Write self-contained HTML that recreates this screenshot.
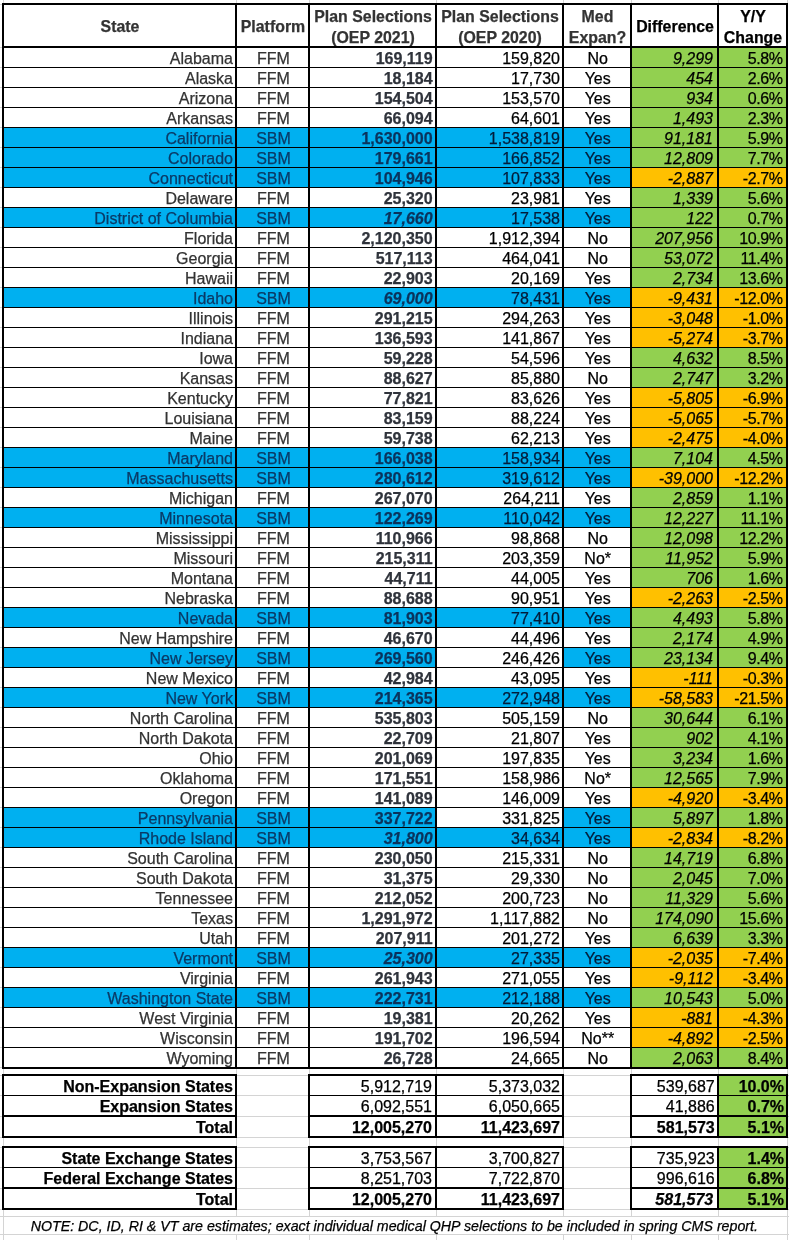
<!DOCTYPE html>
<html lang="en">
<head>
<meta charset="utf-8">
<title>OEP 2021 Plan Selections by State</title>
<style>
html,body{margin:0;padding:0;background:#fff;}
body{width:789px;height:1240px;overflow:hidden;}
#sheet{position:relative;width:789px;height:1240px;background:#fff;overflow:hidden;
  font-family:"Liberation Sans",sans-serif;font-size:16px;color:#000;-webkit-text-stroke:0.25px;}
#sheet div,#sheet span{position:absolute;box-sizing:border-box;white-space:nowrap;}
/* light spreadsheet gridlines */
.gh{left:0;width:789px;height:1px;background:#d4d4d4;}
.gv{top:0;height:1240px;width:1px;background:#d4d4d4;}
/* black rules */
.v{width:2px;background:#000;}
.h{height:2px;background:#000;}
.h1{height:1px;background:#000;}
/* header */
.hd{top:5px;height:41px;font-size:15.9px;padding-left:1px;font-weight:bold;text-align:center;line-height:20.6px;color:#333;background:#fff;}
.hd.k{color:#000;}
/* body rows */
.r{left:4px;width:782px;height:20px;line-height:21px;border-bottom:1px solid #000;}
.r span{top:0;height:19px;}
.c1{left:0;width:231px;text-align:right;padding-right:2px;color:#333;}
.c2{left:233px;width:71px;padding-left:2px;text-align:center;color:#333;}
.c3{left:306px;width:125px;text-align:right;padding-right:2.4px;font-weight:bold;color:#2f333b;}
.c4{left:433px;width:125px;text-align:right;padding-right:2px;}
.c5{left:560px;width:66px;text-align:center;padding-left:1.4px;}
.c6{left:628px;width:85px;text-align:right;padding-right:4px;font-style:italic;background:#92d050;}
.c7{left:715px;width:67px;text-align:right;padding-right:3.4px;letter-spacing:-0.4px;background:#92d050;}
.o .c6,.o .c7{background:#ffc000;}
.b .c1,.b .c2,.b .c3,.b .c4,.b .c5{background:#00b0f0;}
.b .c1,.b .c2{color:#0a3a66;}
.b .c3{color:#0a335c;}
.b .c4,.b .c5{color:#031c3a;}
.b.w4 .c4{background:#fff;color:#000;}
.e .c3{font-style:italic;}
/* summary rows */
.s{height:19px;line-height:21px;text-align:right;}
.sb{font-weight:bold;}
.g{background:#92d050;}
.note{left:0;width:789px;top:1217px;height:17px;line-height:18px;font-size:14.23px;font-style:italic;text-align:center;}
.hd.one{line-height:41px;padding-top:1px;}
.hd.two{padding-top:2px;}
</style>
</head>
<body>
<div id="sheet">
<!-- faint spreadsheet gridlines -->
<div class="gv" style="left:3px"></div><div class="gv" style="left:236px"></div><div class="gv" style="left:309px"></div><div class="gv" style="left:436px"></div><div class="gv" style="left:563px"></div><div class="gv" style="left:631px"></div><div class="gv" style="left:718px"></div><div class="gv" style="left:787px"></div>
<div class="gh" style="top:1075px"></div><div class="gh" style="top:1095px"></div><div class="gh" style="top:1116px"></div><div class="gh" style="top:1137px"></div><div class="gh" style="top:1147px"></div><div class="gh" style="top:1167px"></div><div class="gh" style="top:1188px"></div><div class="gh" style="top:1209px"></div><div class="gh" style="top:1216px"></div><div class="gh" style="top:1234px"></div>
<div class="gh" style="top:4px;width:2px"></div><div class="gh" style="top:47px;width:2px"></div><div class="gh" style="top:67px;width:2px"></div><div class="gh" style="top:87px;width:2px"></div><div class="gh" style="top:107px;width:2px"></div><div class="gh" style="top:127px;width:2px"></div><div class="gh" style="top:147px;width:2px"></div><div class="gh" style="top:167px;width:2px"></div><div class="gh" style="top:187px;width:2px"></div><div class="gh" style="top:207px;width:2px"></div><div class="gh" style="top:227px;width:2px"></div><div class="gh" style="top:247px;width:2px"></div><div class="gh" style="top:267px;width:2px"></div><div class="gh" style="top:287px;width:2px"></div><div class="gh" style="top:307px;width:2px"></div><div class="gh" style="top:327px;width:2px"></div><div class="gh" style="top:347px;width:2px"></div><div class="gh" style="top:367px;width:2px"></div><div class="gh" style="top:387px;width:2px"></div><div class="gh" style="top:407px;width:2px"></div><div class="gh" style="top:427px;width:2px"></div><div class="gh" style="top:447px;width:2px"></div><div class="gh" style="top:467px;width:2px"></div><div class="gh" style="top:487px;width:2px"></div><div class="gh" style="top:507px;width:2px"></div><div class="gh" style="top:527px;width:2px"></div><div class="gh" style="top:547px;width:2px"></div><div class="gh" style="top:567px;width:2px"></div><div class="gh" style="top:587px;width:2px"></div><div class="gh" style="top:607px;width:2px"></div><div class="gh" style="top:627px;width:2px"></div><div class="gh" style="top:647px;width:2px"></div><div class="gh" style="top:667px;width:2px"></div><div class="gh" style="top:687px;width:2px"></div><div class="gh" style="top:707px;width:2px"></div><div class="gh" style="top:727px;width:2px"></div><div class="gh" style="top:747px;width:2px"></div><div class="gh" style="top:767px;width:2px"></div><div class="gh" style="top:787px;width:2px"></div><div class="gh" style="top:807px;width:2px"></div><div class="gh" style="top:827px;width:2px"></div><div class="gh" style="top:847px;width:2px"></div><div class="gh" style="top:867px;width:2px"></div><div class="gh" style="top:887px;width:2px"></div><div class="gh" style="top:907px;width:2px"></div><div class="gh" style="top:927px;width:2px"></div><div class="gh" style="top:947px;width:2px"></div><div class="gh" style="top:967px;width:2px"></div><div class="gh" style="top:987px;width:2px"></div><div class="gh" style="top:1007px;width:2px"></div><div class="gh" style="top:1027px;width:2px"></div><div class="gh" style="top:1047px;width:2px"></div><div class="gh" style="top:1067px;width:2px"></div>
<!-- white backing of main table -->
<div style="left:2px;top:3px;width:786px;height:1066px;background:#fff"></div>
<!-- header row -->
<div class="hd one" style="left:4px;width:231px">State</div>
<div class="hd one" style="left:237px;width:71px">Platform</div>
<div class="hd two" style="left:310px;width:125px">Plan Selections<br>(OEP 2021)</div>
<div class="hd two" style="left:437px;width:125px">Plan Selections<br>(OEP 2020)</div>
<div class="hd two" style="left:564px;width:66px">Med<br>Expan?</div>
<div class="hd one k" style="left:632px;width:85px">Difference</div>
<div class="hd two k" style="left:719px;width:67px">Y/Y<br>Change</div>
<!-- state rows -->
<div class="r" style="top:48px"><span class="c1">Alabama</span><span class="c2">FFM</span><span class="c3">169,119</span><span class="c4">159,820</span><span class="c5">No</span><span class="c6">9,299</span><span class="c7">5.8%</span></div>
<div class="r" style="top:68px"><span class="c1">Alaska</span><span class="c2">FFM</span><span class="c3">18,184</span><span class="c4">17,730</span><span class="c5">Yes</span><span class="c6">454</span><span class="c7">2.6%</span></div>
<div class="r" style="top:88px"><span class="c1">Arizona</span><span class="c2">FFM</span><span class="c3">154,504</span><span class="c4">153,570</span><span class="c5">Yes</span><span class="c6">934</span><span class="c7">0.6%</span></div>
<div class="r" style="top:108px"><span class="c1">Arkansas</span><span class="c2">FFM</span><span class="c3">66,094</span><span class="c4">64,601</span><span class="c5">Yes</span><span class="c6">1,493</span><span class="c7">2.3%</span></div>
<div class="r b" style="top:128px"><span class="c1">California</span><span class="c2">SBM</span><span class="c3">1,630,000</span><span class="c4">1,538,819</span><span class="c5">Yes</span><span class="c6">91,181</span><span class="c7">5.9%</span></div>
<div class="r b" style="top:148px"><span class="c1">Colorado</span><span class="c2">SBM</span><span class="c3">179,661</span><span class="c4">166,852</span><span class="c5">Yes</span><span class="c6">12,809</span><span class="c7">7.7%</span></div>
<div class="r b o" style="top:168px"><span class="c1">Connecticut</span><span class="c2">SBM</span><span class="c3">104,946</span><span class="c4">107,833</span><span class="c5">Yes</span><span class="c6">-2,887</span><span class="c7">-2.7%</span></div>
<div class="r" style="top:188px"><span class="c1">Delaware</span><span class="c2">FFM</span><span class="c3">25,320</span><span class="c4">23,981</span><span class="c5">Yes</span><span class="c6">1,339</span><span class="c7">5.6%</span></div>
<div class="r b e" style="top:208px"><span class="c1">District of Columbia</span><span class="c2">SBM</span><span class="c3">17,660</span><span class="c4">17,538</span><span class="c5">Yes</span><span class="c6">122</span><span class="c7">0.7%</span></div>
<div class="r" style="top:228px"><span class="c1">Florida</span><span class="c2">FFM</span><span class="c3">2,120,350</span><span class="c4">1,912,394</span><span class="c5">No</span><span class="c6">207,956</span><span class="c7">10.9%</span></div>
<div class="r" style="top:248px"><span class="c1">Georgia</span><span class="c2">FFM</span><span class="c3">517,113</span><span class="c4">464,041</span><span class="c5">No</span><span class="c6">53,072</span><span class="c7">11.4%</span></div>
<div class="r" style="top:268px"><span class="c1">Hawaii</span><span class="c2">FFM</span><span class="c3">22,903</span><span class="c4">20,169</span><span class="c5">Yes</span><span class="c6">2,734</span><span class="c7">13.6%</span></div>
<div class="r b o e" style="top:288px"><span class="c1">Idaho</span><span class="c2">SBM</span><span class="c3">69,000</span><span class="c4">78,431</span><span class="c5">Yes</span><span class="c6">-9,431</span><span class="c7">-12.0%</span></div>
<div class="r o" style="top:308px"><span class="c1">Illinois</span><span class="c2">FFM</span><span class="c3">291,215</span><span class="c4">294,263</span><span class="c5">Yes</span><span class="c6">-3,048</span><span class="c7">-1.0%</span></div>
<div class="r o" style="top:328px"><span class="c1">Indiana</span><span class="c2">FFM</span><span class="c3">136,593</span><span class="c4">141,867</span><span class="c5">Yes</span><span class="c6">-5,274</span><span class="c7">-3.7%</span></div>
<div class="r" style="top:348px"><span class="c1">Iowa</span><span class="c2">FFM</span><span class="c3">59,228</span><span class="c4">54,596</span><span class="c5">Yes</span><span class="c6">4,632</span><span class="c7">8.5%</span></div>
<div class="r" style="top:368px"><span class="c1">Kansas</span><span class="c2">FFM</span><span class="c3">88,627</span><span class="c4">85,880</span><span class="c5">No</span><span class="c6">2,747</span><span class="c7">3.2%</span></div>
<div class="r o" style="top:388px"><span class="c1">Kentucky</span><span class="c2">FFM</span><span class="c3">77,821</span><span class="c4">83,626</span><span class="c5">Yes</span><span class="c6">-5,805</span><span class="c7">-6.9%</span></div>
<div class="r o" style="top:408px"><span class="c1">Louisiana</span><span class="c2">FFM</span><span class="c3">83,159</span><span class="c4">88,224</span><span class="c5">Yes</span><span class="c6">-5,065</span><span class="c7">-5.7%</span></div>
<div class="r o" style="top:428px"><span class="c1">Maine</span><span class="c2">FFM</span><span class="c3">59,738</span><span class="c4">62,213</span><span class="c5">Yes</span><span class="c6">-2,475</span><span class="c7">-4.0%</span></div>
<div class="r b" style="top:448px"><span class="c1">Maryland</span><span class="c2">SBM</span><span class="c3">166,038</span><span class="c4">158,934</span><span class="c5">Yes</span><span class="c6">7,104</span><span class="c7">4.5%</span></div>
<div class="r b o" style="top:468px"><span class="c1">Massachusetts</span><span class="c2">SBM</span><span class="c3">280,612</span><span class="c4">319,612</span><span class="c5">Yes</span><span class="c6">-39,000</span><span class="c7">-12.2%</span></div>
<div class="r" style="top:488px"><span class="c1">Michigan</span><span class="c2">FFM</span><span class="c3">267,070</span><span class="c4">264,211</span><span class="c5">Yes</span><span class="c6">2,859</span><span class="c7">1.1%</span></div>
<div class="r b" style="top:508px"><span class="c1">Minnesota</span><span class="c2">SBM</span><span class="c3">122,269</span><span class="c4">110,042</span><span class="c5">Yes</span><span class="c6">12,227</span><span class="c7">11.1%</span></div>
<div class="r" style="top:528px"><span class="c1">Mississippi</span><span class="c2">FFM</span><span class="c3">110,966</span><span class="c4">98,868</span><span class="c5">No</span><span class="c6">12,098</span><span class="c7">12.2%</span></div>
<div class="r" style="top:548px"><span class="c1">Missouri</span><span class="c2">FFM</span><span class="c3">215,311</span><span class="c4">203,359</span><span class="c5">No*</span><span class="c6">11,952</span><span class="c7">5.9%</span></div>
<div class="r" style="top:568px"><span class="c1">Montana</span><span class="c2">FFM</span><span class="c3">44,711</span><span class="c4">44,005</span><span class="c5">Yes</span><span class="c6">706</span><span class="c7">1.6%</span></div>
<div class="r o" style="top:588px"><span class="c1">Nebraska</span><span class="c2">FFM</span><span class="c3">88,688</span><span class="c4">90,951</span><span class="c5">Yes</span><span class="c6">-2,263</span><span class="c7">-2.5%</span></div>
<div class="r b" style="top:608px"><span class="c1">Nevada</span><span class="c2">SBM</span><span class="c3">81,903</span><span class="c4">77,410</span><span class="c5">Yes</span><span class="c6">4,493</span><span class="c7">5.8%</span></div>
<div class="r" style="top:628px"><span class="c1">New Hampshire</span><span class="c2">FFM</span><span class="c3">46,670</span><span class="c4">44,496</span><span class="c5">Yes</span><span class="c6">2,174</span><span class="c7">4.9%</span></div>
<div class="r b w4" style="top:648px"><span class="c1">New Jersey</span><span class="c2">SBM</span><span class="c3">269,560</span><span class="c4">246,426</span><span class="c5">Yes</span><span class="c6">23,134</span><span class="c7">9.4%</span></div>
<div class="r o" style="top:668px"><span class="c1">New Mexico</span><span class="c2">FFM</span><span class="c3">42,984</span><span class="c4">43,095</span><span class="c5">Yes</span><span class="c6">-111</span><span class="c7">-0.3%</span></div>
<div class="r b o" style="top:688px"><span class="c1">New York</span><span class="c2">SBM</span><span class="c3">214,365</span><span class="c4">272,948</span><span class="c5">Yes</span><span class="c6">-58,583</span><span class="c7">-21.5%</span></div>
<div class="r" style="top:708px"><span class="c1">North Carolina</span><span class="c2">FFM</span><span class="c3">535,803</span><span class="c4">505,159</span><span class="c5">No</span><span class="c6">30,644</span><span class="c7">6.1%</span></div>
<div class="r" style="top:728px"><span class="c1">North Dakota</span><span class="c2">FFM</span><span class="c3">22,709</span><span class="c4">21,807</span><span class="c5">Yes</span><span class="c6">902</span><span class="c7">4.1%</span></div>
<div class="r" style="top:748px"><span class="c1">Ohio</span><span class="c2">FFM</span><span class="c3">201,069</span><span class="c4">197,835</span><span class="c5">Yes</span><span class="c6">3,234</span><span class="c7">1.6%</span></div>
<div class="r" style="top:768px"><span class="c1">Oklahoma</span><span class="c2">FFM</span><span class="c3">171,551</span><span class="c4">158,986</span><span class="c5">No*</span><span class="c6">12,565</span><span class="c7">7.9%</span></div>
<div class="r o" style="top:788px"><span class="c1">Oregon</span><span class="c2">FFM</span><span class="c3">141,089</span><span class="c4">146,009</span><span class="c5">Yes</span><span class="c6">-4,920</span><span class="c7">-3.4%</span></div>
<div class="r b w4" style="top:808px"><span class="c1">Pennsylvania</span><span class="c2">SBM</span><span class="c3">337,722</span><span class="c4">331,825</span><span class="c5">Yes</span><span class="c6">5,897</span><span class="c7">1.8%</span></div>
<div class="r b o e" style="top:828px"><span class="c1">Rhode Island</span><span class="c2">SBM</span><span class="c3">31,800</span><span class="c4">34,634</span><span class="c5">Yes</span><span class="c6">-2,834</span><span class="c7">-8.2%</span></div>
<div class="r" style="top:848px"><span class="c1">South Carolina</span><span class="c2">FFM</span><span class="c3">230,050</span><span class="c4">215,331</span><span class="c5">No</span><span class="c6">14,719</span><span class="c7">6.8%</span></div>
<div class="r" style="top:868px"><span class="c1">South Dakota</span><span class="c2">FFM</span><span class="c3">31,375</span><span class="c4">29,330</span><span class="c5">No</span><span class="c6">2,045</span><span class="c7">7.0%</span></div>
<div class="r" style="top:888px"><span class="c1">Tennessee</span><span class="c2">FFM</span><span class="c3">212,052</span><span class="c4">200,723</span><span class="c5">No</span><span class="c6">11,329</span><span class="c7">5.6%</span></div>
<div class="r" style="top:908px"><span class="c1">Texas</span><span class="c2">FFM</span><span class="c3">1,291,972</span><span class="c4">1,117,882</span><span class="c5">No</span><span class="c6">174,090</span><span class="c7">15.6%</span></div>
<div class="r" style="top:928px"><span class="c1">Utah</span><span class="c2">FFM</span><span class="c3">207,911</span><span class="c4">201,272</span><span class="c5">Yes</span><span class="c6">6,639</span><span class="c7">3.3%</span></div>
<div class="r b o e" style="top:948px"><span class="c1">Vermont</span><span class="c2">SBM</span><span class="c3">25,300</span><span class="c4">27,335</span><span class="c5">Yes</span><span class="c6">-2,035</span><span class="c7">-7.4%</span></div>
<div class="r o" style="top:968px"><span class="c1">Virginia</span><span class="c2">FFM</span><span class="c3">261,943</span><span class="c4">271,055</span><span class="c5">Yes</span><span class="c6">-9,112</span><span class="c7">-3.4%</span></div>
<div class="r b" style="top:988px"><span class="c1">Washington State</span><span class="c2">SBM</span><span class="c3">222,731</span><span class="c4">212,188</span><span class="c5">Yes</span><span class="c6">10,543</span><span class="c7">5.0%</span></div>
<div class="r o" style="top:1008px"><span class="c1">West Virginia</span><span class="c2">FFM</span><span class="c3">19,381</span><span class="c4">20,262</span><span class="c5">Yes</span><span class="c6">-881</span><span class="c7">-4.3%</span></div>
<div class="r o" style="top:1028px"><span class="c1">Wisconsin</span><span class="c2">FFM</span><span class="c3">191,702</span><span class="c4">196,594</span><span class="c5">No**</span><span class="c6">-4,892</span><span class="c7">-2.5%</span></div>
<div class="r" style="top:1048px"><span class="c1">Wyoming</span><span class="c2">FFM</span><span class="c3">26,728</span><span class="c4">24,665</span><span class="c5">No</span><span class="c6">2,063</span><span class="c7">8.4%</span></div>
<!-- main table rules -->
<div class="h" style="left:2px;top:3px;width:786px"></div>
<div class="h" style="left:2px;top:46px;width:786px"></div>
<div class="h" style="left:2px;top:1067px;width:786px"></div>
<div class="v" style="left:2px;top:3px;height:1066px"></div><div class="v" style="left:235px;top:3px;height:1066px"></div><div class="v" style="left:308px;top:3px;height:1066px"></div><div class="v" style="left:435px;top:3px;height:1066px"></div><div class="v" style="left:562px;top:3px;height:1066px"></div><div class="v" style="left:630px;top:3px;height:1066px"></div><div class="v" style="left:717px;top:3px;height:1066px"></div><div class="v" style="left:786px;top:3px;height:1066px"></div>
<!-- summary block at 1074 -->
<div style="left:2px;top:1074px;width:235px;height:64px;background:#fff"></div><div style="left:308px;top:1074px;width:256px;height:64px;background:#fff"></div><div style="left:630px;top:1074px;width:158px;height:64px;background:#fff"></div>
<div class="g" style="left:719px;top:1076px;width:67px;height:19px"></div><div class="g" style="left:719px;top:1096px;width:67px;height:19px"></div><div class="g" style="left:719px;top:1117px;width:67px;height:19px"></div>
<div class="s sb" style="left:4px;top:1076px;width:231px;padding-right:2px">Non-Expansion States</div><div class="s" style="left:310px;top:1076px;width:125px;padding-right:3px">5,912,719</div><div class="s" style="left:437px;top:1076px;width:125px;padding-right:2px">5,373,032</div><div class="s" style="left:632px;top:1076px;width:85px;padding-right:2.3px">539,687</div><div class="s sb" style="left:719px;top:1076px;width:67px;padding-right:2px">10.0%</div>
<div class="s sb" style="left:4px;top:1096px;width:231px;padding-right:2px">Expansion States</div><div class="s" style="left:310px;top:1096px;width:125px;padding-right:3px">6,092,551</div><div class="s" style="left:437px;top:1096px;width:125px;padding-right:2px">6,050,665</div><div class="s" style="left:632px;top:1096px;width:85px;padding-right:2.3px">41,886</div><div class="s sb" style="left:719px;top:1096px;width:67px;padding-right:2px">0.7%</div>
<div class="s sb" style="left:4px;top:1117px;width:231px;padding-right:2px">Total</div><div class="s sb" style="left:310px;top:1117px;width:125px;padding-right:3px">12,005,270</div><div class="s sb" style="left:437px;top:1117px;width:125px;padding-right:2px">11,423,697</div><div class="s sb" style="left:632px;top:1117px;width:85px;padding-right:2.3px">581,573</div><div class="s sb" style="left:719px;top:1117px;width:67px;padding-right:2px">5.1%</div>
<div class="h" style="left:2px;top:1074px;width:235px"></div><div class="h1" style="left:2px;top:1095px;width:235px"></div><div class="h" style="left:2px;top:1115px;width:235px"></div><div class="h" style="left:2px;top:1136px;width:235px"></div><div class="h" style="left:308px;top:1074px;width:256px"></div><div class="h1" style="left:308px;top:1095px;width:256px"></div><div class="h" style="left:308px;top:1115px;width:256px"></div><div class="h" style="left:308px;top:1136px;width:256px"></div><div class="h" style="left:630px;top:1074px;width:158px"></div><div class="h1" style="left:630px;top:1095px;width:158px"></div><div class="h" style="left:630px;top:1115px;width:158px"></div><div class="h" style="left:630px;top:1136px;width:158px"></div>
<div class="v" style="left:2px;top:1074px;height:64px"></div><div class="v" style="left:235px;top:1074px;height:64px"></div><div class="v" style="left:308px;top:1074px;height:64px"></div><div class="v" style="left:435px;top:1074px;height:64px"></div><div class="v" style="left:562px;top:1074px;height:64px"></div><div class="v" style="left:630px;top:1074px;height:64px"></div><div class="v" style="left:717px;top:1074px;height:64px"></div><div class="v" style="left:786px;top:1074px;height:64px"></div>
<!-- summary block at 1146 -->
<div style="left:2px;top:1146px;width:235px;height:64px;background:#fff"></div><div style="left:308px;top:1146px;width:256px;height:64px;background:#fff"></div><div style="left:630px;top:1146px;width:158px;height:64px;background:#fff"></div>
<div class="g" style="left:719px;top:1148px;width:67px;height:19px"></div><div class="g" style="left:719px;top:1168px;width:67px;height:19px"></div><div class="g" style="left:719px;top:1189px;width:67px;height:19px"></div>
<div class="s sb" style="left:4px;top:1148px;width:231px;padding-right:2px">State Exchange States</div><div class="s" style="left:310px;top:1148px;width:125px;padding-right:3px">3,753,567</div><div class="s" style="left:437px;top:1148px;width:125px;padding-right:2px">3,700,827</div><div class="s" style="left:632px;top:1148px;width:85px;padding-right:2.3px">735,923</div><div class="s sb" style="left:719px;top:1148px;width:67px;padding-right:2px">1.4%</div>
<div class="s sb" style="left:4px;top:1168px;width:231px;padding-right:2px">Federal Exchange States</div><div class="s" style="left:310px;top:1168px;width:125px;padding-right:3px">8,251,703</div><div class="s" style="left:437px;top:1168px;width:125px;padding-right:2px">7,722,870</div><div class="s" style="left:632px;top:1168px;width:85px;padding-right:2.3px">996,616</div><div class="s sb" style="left:719px;top:1168px;width:67px;padding-right:2px">6.8%</div>
<div class="s sb" style="left:4px;top:1189px;width:231px;padding-right:2px">Total</div><div class="s sb" style="left:310px;top:1189px;width:125px;padding-right:3px">12,005,270</div><div class="s sb" style="left:437px;top:1189px;width:125px;padding-right:2px">11,423,697</div><div class="s sb" style="left:632px;top:1189px;width:85px;padding-right:3.8px;font-style:italic">581,573</div><div class="s sb" style="left:719px;top:1189px;width:67px;padding-right:2px">5.1%</div>
<div class="h" style="left:2px;top:1146px;width:235px"></div><div class="h1" style="left:2px;top:1167px;width:235px"></div><div class="h" style="left:2px;top:1187px;width:235px"></div><div class="h" style="left:2px;top:1208px;width:235px"></div><div class="h" style="left:308px;top:1146px;width:256px"></div><div class="h1" style="left:308px;top:1167px;width:256px"></div><div class="h" style="left:308px;top:1187px;width:256px"></div><div class="h" style="left:308px;top:1208px;width:256px"></div><div class="h" style="left:630px;top:1146px;width:158px"></div><div class="h1" style="left:630px;top:1167px;width:158px"></div><div class="h" style="left:630px;top:1187px;width:158px"></div><div class="h" style="left:630px;top:1208px;width:158px"></div>
<div class="v" style="left:2px;top:1146px;height:64px"></div><div class="v" style="left:235px;top:1146px;height:64px"></div><div class="v" style="left:308px;top:1146px;height:64px"></div><div class="v" style="left:435px;top:1146px;height:64px"></div><div class="v" style="left:562px;top:1146px;height:64px"></div><div class="v" style="left:630px;top:1146px;height:64px"></div><div class="v" style="left:717px;top:1146px;height:64px"></div><div class="v" style="left:786px;top:1146px;height:64px"></div>
<!-- footnote -->
<div class="note" style="left:4px;width:780.7px;background:#fff">NOTE: DC, ID, RI &amp; VT are estimates; exact individual medical QHP selections to be included in spring CMS report.</div>
</div>
</body>
</html>
